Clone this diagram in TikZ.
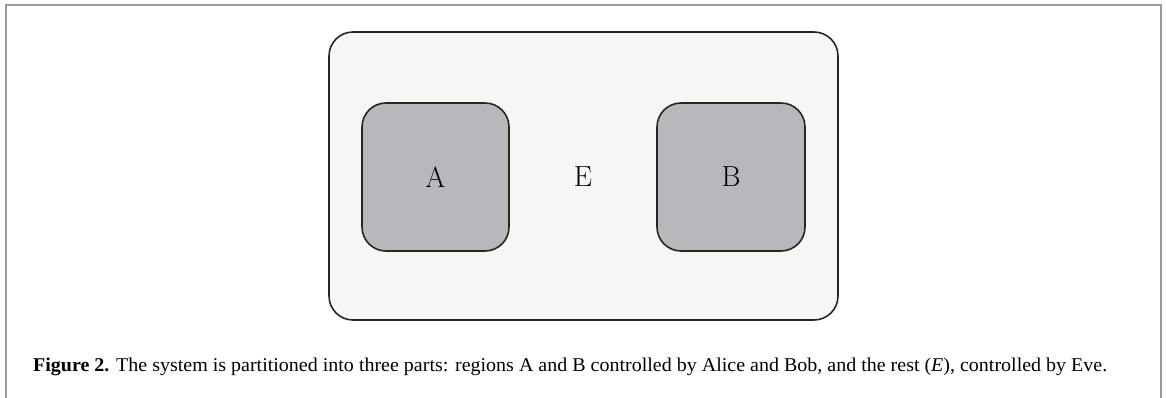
\documentclass[tikz,border=0pt]{standalone}
\usepackage{fontspec}
\newfontfamily\capfont{Liberation Serif}
\definecolor{outerfill}{HTML}{F6F6F6}
\definecolor{innerfill}{HTML}{B7B8BB}
\definecolor{framegray}{HTML}{9A9A9A}
\begin{document}
\begin{tikzpicture}[x=1pt,y=-1pt,
  region/.style={draw=black!85, line width=1.6pt, rounded corners=24pt},
  label/.style={font=\fontsize{29}{32}\selectfont, inner sep=0pt}]
\useasboundingbox (0,0) rectangle (1166,398);
\draw[framegray, line width=1.6pt] (6,398) -- (6,5) -- (1161,5) -- (1161,398);
\draw[region, fill=outerfill] (329,32) rectangle (838,320);
\draw[region, fill=innerfill] (362,103) rectangle (509,251);
\draw[region, fill=innerfill] (657,103) rectangle (805,251);
\node[label] (A) at (435.5,177) {A};
\node[label] (E) at (583,177) {E};
\node[label] (B) at (731,177) {B};
\node[anchor=base west, inner sep=0pt] (cap) at (33,371) {\resizebox{1074pt}{\height}{\capfont\fontsize{19.5}{23}\selectfont\textbf{Figure 2.} The system is partitioned into three parts: regions A and B controlled by Alice and Bob, and the rest (\textit{E}), controlled by Eve.}};
\end{tikzpicture}
\end{document}
